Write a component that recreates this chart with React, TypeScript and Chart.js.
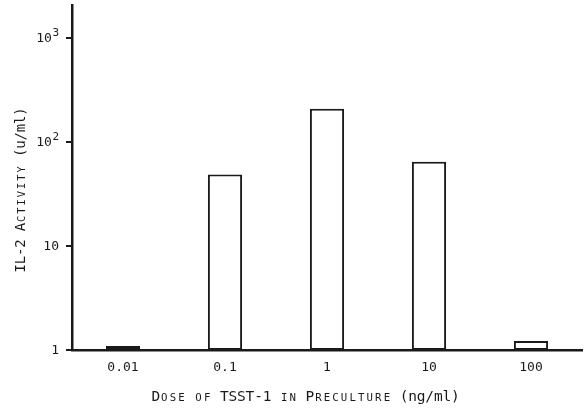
import { useEffect, useRef } from "react";
import { Chart, registerables } from "chart.js";

Chart.register(...registerables);

const categories = ["0.01", "0.1", "1", "10", "100"];
const il2Activity = [1.09, 49, 211, 65, 1.22];
const yTickValues = [1, 10, 100, 1000];
const yTickBases = ["1", "10", "10", "10"];
const yTickExponents = ["", "", "2", "3"];
const xTitleCaps = "Dose of TSST-1 in Preculture";
const xTitleUnit = "(ng/ml)";
const yTitleCaps = "IL-2 Activity";
const yTitleUnit = "(u/ml)";

const FONT = '"DejaVu Sans Mono", "Liberation Mono", monospace';
const INK = "#1a1a1a";

type Seg = { text: string; caps: boolean };

function drawTypewriter(
  ctx: CanvasRenderingContext2D,
  segments: Seg[],
  advance: number,
  size: number,
  cx: number,
  cy: number,
  rotate: boolean
) {
  ctx.save();
  ctx.translate(cx, cy);
  if (rotate) ctx.rotate(-Math.PI / 2);
  const count = segments.reduce((n, s) => n + s.text.length, 0);
  let x = -(count * advance) / 2;
  ctx.textAlign = "center";
  ctx.textBaseline = "alphabetic";
  ctx.fillStyle = INK;
  const base = size * 0.36;
  for (const seg of segments) {
    for (const ch of seg.text) {
      let c = ch;
      let s = size;
      if (seg.caps && ch !== ch.toUpperCase()) {
        c = ch.toUpperCase();
        s = size * 0.74;
      }
      ctx.font = `${s}px ${FONT}`;
      ctx.fillText(c, x + advance / 2, base);
      x += advance;
    }
  }
  ctx.restore();
}

const titlesPlugin = {
  id: "typewriterTitles",
  afterDraw(chart: any) {
    const ctx = chart.ctx as CanvasRenderingContext2D;
    const area = chart.chartArea;
    drawTypewriter(
      ctx,
      [
        { text: xTitleCaps + " ", caps: true },
        { text: xTitleUnit, caps: false },
      ],
      8.56,
      14.5,
      area.left + (area.right - area.left) * 0.458,
      area.bottom + 45.5,
      false
    );
    drawTypewriter(
      ctx,
      [
        { text: yTitleCaps + " ", caps: true },
        { text: yTitleUnit, caps: false },
      ],
      8.25,
      14,
      area.left - 52,
      area.top + (area.bottom - area.top) * 0.536,
      true
    );

    // y tick labels with real superscript exponents
    const yScale = chart.scales.y;
    const right = area.left - 13;
    ctx.save();
    ctx.fillStyle = INK;
    ctx.textBaseline = "middle";
    ctx.textAlign = "right";
    yTickValues.forEach((v, i) => {
      const y = yScale.getPixelForValue(v);
      const exp = yTickExponents[i];
      let baseRight = right;
      if (exp) {
        ctx.font = `11px ${FONT}`;
        const w = ctx.measureText(exp).width;
        ctx.fillText(exp, right, y - 5);
        baseRight = right - w - 0.5;
      }
      ctx.font = `13px ${FONT}`;
      ctx.fillText(yTickBases[i], baseRight, y + 0.5);
    });
    ctx.restore();
  },
};

export default function App() {
  const ref = useRef<HTMLCanvasElement>(null);

  useEffect(() => {
    document.body.style.margin = "0";
    document.body.style.background = "#ffffff";
    const canvas = ref.current;
    if (!canvas) return;
    const chart = new Chart(canvas, {
      type: "bar",
      data: {
        labels: categories,
        datasets: [
          {
            data: il2Activity,
            backgroundColor: "#ffffff",
            borderColor: INK,
            borderWidth: 2,
            borderSkipped: false,
            barPercentage: 0.335,
            categoryPercentage: 1,
          },
        ],
      },
      options: {
        animation: false,
        responsive: false,
        devicePixelRatio: 1,
        layout: { padding: { left: 0, right: 3, top: 5, bottom: 0 } },
        plugins: {
          legend: { display: false },
          tooltip: { enabled: false },
          title: { display: false },
        },
        scales: {
          x: {
            grid: { display: true, drawOnChartArea: false, drawTicks: false, color: "rgba(0,0,0,0)" },
            border: { display: true, color: INK, width: 2.5 },
            ticks: {
              color: INK,
              font: { family: FONT, size: 13 },
              padding: 10,
            },
            afterFit: (scale: any) => {
              scale.height = 58;
              scale.paddingLeft = 0;
              scale.paddingRight = 0;
            },
          },
          y: {
            type: "logarithmic",
            min: 1,
            max: 2100,
            grid: {
              display: true,
              drawOnChartArea: false,
              drawTicks: true,
              tickLength: 6,
              color: INK,
              lineWidth: 2,
            },
            border: { display: true, color: INK, width: 2.5 },
            afterBuildTicks: (scale: any) => {
              scale.ticks = yTickValues.map((v) => ({ value: v }));
            },
            ticks: {
              display: false,
              autoSkip: false,
            },
            afterFit: (scale: any) => {
              scale.width = 72;
              scale.paddingTop = 0;
              scale.paddingBottom = 0;
            },
          },
        },
      },
      plugins: [titlesPlugin],
    });
    return () => chart.destroy();
  }, []);

  return (
    <div style={{ width: 585, height: 408 }}>
      <canvas ref={ref} width={585} height={408} />
    </div>
  );
}
